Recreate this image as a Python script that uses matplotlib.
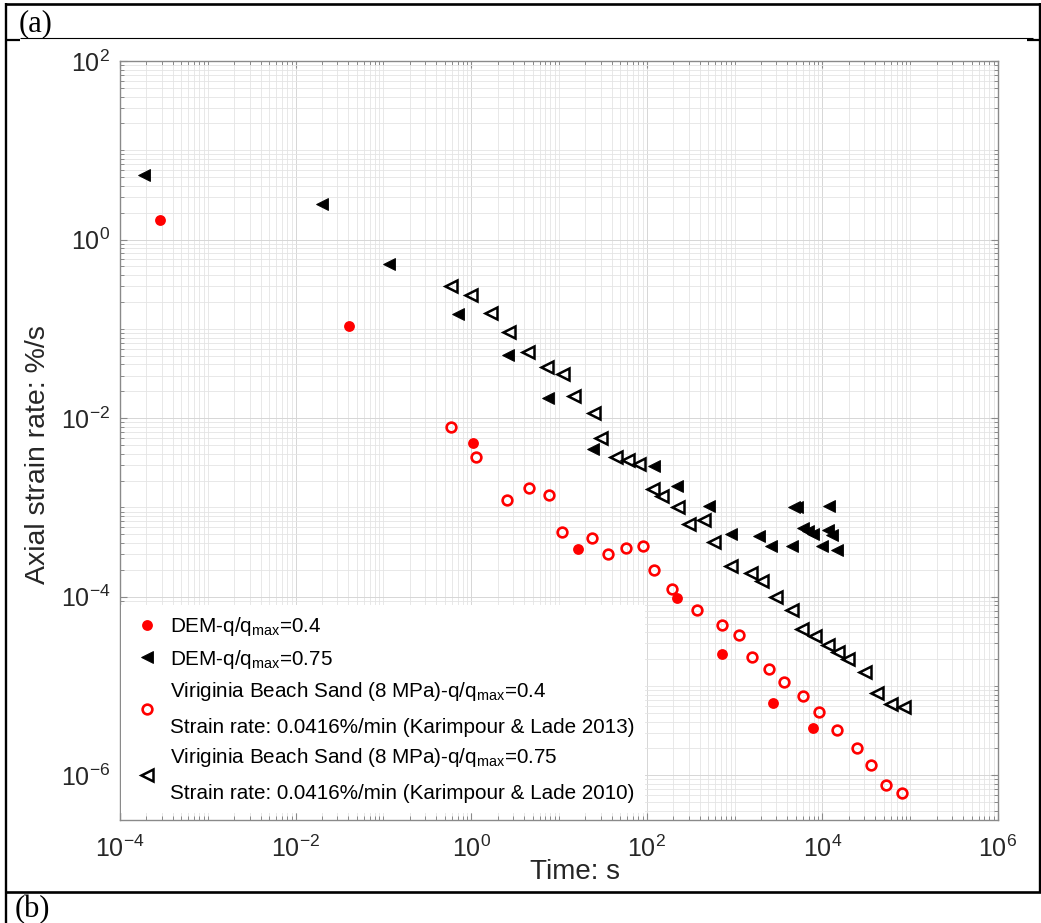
import numpy as np
import matplotlib
matplotlib.use('Agg')
import matplotlib.pyplot as plt
from matplotlib.lines import Line2D
from matplotlib.ticker import FixedLocator, FuncFormatter, NullFormatter

plt.rcParams['font.family'] = ['Liberation Sans', 'DejaVu Sans']
plt.rcParams['mathtext.fontset'] = 'custom'
plt.rcParams['mathtext.rm'] = 'Liberation Sans'
plt.rcParams['mathtext.it'] = 'Liberation Sans:italic'
plt.rcParams['mathtext.bf'] = 'Liberation Sans:bold'

# ---------------- data ----------------
dem04_t = [2.83e-4, 0.0405, 1.06, 16.3, 218, 718, 2760, 7750]
dem04_r = [1.64, 0.109, 5.24e-3, 3.45e-4, 9.6e-5, 2.29e-5, 6.47e-6, 3.43e-6]

dem075_t = [1.89e-4, 0.020, 0.117, 0.70, 2.65, 7.55, 24.2, 121.7, 219, 515,
            910, 1897, 2577, 4540, 4800, 5200, 11970, 6060, 6910, 7870,
            11670, 12760, 9820, 14550]
dem075_r = [5.35, 2.53, 0.527, 0.1466, 0.0514, 0.0167, 4.53e-3, 2.9e-3, 1.73e-3, 1.03e-3,
            4.99e-4, 4.78e-4, 3.69e-4, 3.69e-4, 1.0e-3, 1.0e-3, 1.03e-3, 5.86e-4, 5.40e-4, 4.99e-4,
            5.62e-4, 4.86e-4, 3.66e-4, 3.30e-4]

vbs04_t = [0.583, 1.125, 2.53, 4.59, 7.69, 10.9, 23.9, 36.5, 57.9, 90.6, 121.7, 193.6,
           370, 713, 1122, 1592, 2483, 3622, 6012, 9140, 14650, 24600, 36100, 52600, 80000]
vbs04_r = [8.05e-3, 3.66e-3, 1.22e-3, 1.67e-3, 1.37e-3, 5.29e-4, 4.58e-4, 3.03e-4, 3.54e-4,
           3.66e-4, 2.01e-4, 1.22e-4, 7.18e-5, 4.79e-5, 3.70e-5, 2.12e-5, 1.54e-5, 1.11e-5,
           7.74e-6, 5.06e-6, 3.18e-6, 2.0e-6, 1.29e-6, 7.76e-7, 6.28e-7]

vbs075_t = [0.583, 0.995, 1.67, 2.72, 4.40, 7.36, 11.2, 14.9, 25.2, 30.1, 44.6, 60.5, 82.2,
            116.7, 148, 225, 300, 448, 582, 910, 1524, 2066, 2937, 4540, 5900, 8240, 11670,
            15170, 19700, 30560, 42170, 59950, 85700]
vbs075_r = [0.304, 0.239, 0.149, 0.0931, 0.0556, 0.0378, 0.0313, 0.0175, 0.01135, 6.03e-3,
            3.66e-3, 3.44e-3, 3.08e-3, 1.62e-3, 1.36e-3, 1.0e-3, 6.58e-4, 7.16e-4, 4.09e-4,
            2.19e-4, 1.84e-4, 1.52e-4, 9.93e-5, 7.05e-5, 4.40e-5, 3.61e-5, 2.86e-5, 2.41e-5,
            2.03e-5, 1.44e-5, 8.45e-6, 6.37e-6, 5.83e-6]

labels = [
    'DEM-q/q$_{\\mathregular{max}}$=0.4',
    'DEM-q/q$_{\\mathregular{max}}$=0.75',
    'Viriginia Beach Sand (8 MPa)-q/q$_{\\mathregular{max}}$=0.4\n'
    'Strain rate: 0.0416%/min (Karimpour & Lade 2013)',
    'Viriginia Beach Sand (8 MPa)-q/q$_{\\mathregular{max}}$=0.75\n'
    'Strain rate: 0.0416%/min (Karimpour & Lade 2010)',
]
x_major = [1e-4, 1e-2, 1e0, 1e2, 1e4, 1e6]
y_major = [1e-6, 1e-4, 1e-2, 1e0, 1e2]

# ---------------- figure ----------------
W, H = 1041, 923
fig = plt.figure(figsize=(W / 100, H / 100), dpi=100)
fig.patch.set_facecolor('white')

def fx(px):
    return px / W

def fy(py):
    return 1 - py / H

ax = fig.add_axes([fx(120), fy(820), fx(998) - fx(120), fy(61) - fy(820)])
ax.set_xscale('log')
ax.set_yscale('log')
ax.set_xlim(1e-4, 1e6)
ax.set_ylim(10 ** -6.5, 1e2)

ax.plot(dem04_t, dem04_r, linestyle='none', marker='o', ms=7.8, mfc='#ff0000',
        mec='#ff0000', mew=0, label=labels[0], zorder=3)
ax.plot(dem075_t, dem075_r, linestyle='none', marker='<', ms=8.6, mfc='black',
        mec='black', mew=0.6, label=labels[1], zorder=3)
ax.plot(vbs04_t, vbs04_r, linestyle='none', marker='o', ms=7.0, mfc='none',
        mec='#ff0000', mew=1.9, label=labels[2], zorder=3)
ax.plot(vbs075_t, vbs075_r, linestyle='none', marker='<', ms=8.0, mfc='none',
        mec='black', mew=1.8, label=labels[3], zorder=3)

def minor_positions(kmin, kmax, majors):
    out = []
    for k in range(kmin, kmax):
        for s in range(1, 10):
            v = s * 10.0 ** k
            if not any(abs(v - m) / m < 1e-9 for m in majors):
                out.append(v)
    return out

ax.xaxis.set_major_locator(FixedLocator(x_major))
ax.xaxis.set_minor_locator(FixedLocator(minor_positions(-5, 7, x_major)))
ax.yaxis.set_major_locator(FixedLocator(y_major))
ax.yaxis.set_minor_locator(FixedLocator(minor_positions(-8, 3, y_major)))
fmt = FuncFormatter(lambda v, p: r'$\mathregular{10^{%d}}$' % int(round(np.log10(v))))
ax.xaxis.set_major_formatter(fmt)
ax.yaxis.set_major_formatter(fmt)
ax.xaxis.set_minor_formatter(NullFormatter())
ax.yaxis.set_minor_formatter(NullFormatter())

ax.set_axisbelow(True)
ax.grid(True, which='major', color='#d6d6d6', lw=0.7)
ax.grid(True, which='minor', color='#e4e4e4', lw=0.6)
for s in ax.spines.values():
    s.set_color('#8a8a8a')
    s.set_linewidth(1.0)
ax.tick_params(which='both', direction='in', top=True, right=True, color='#8a8a8a',
               labelcolor='#262626', labelsize=18)
ax.tick_params(which='major', length=5, width=0.8)
ax.tick_params(which='minor', length=3, width=0.7)
ax.tick_params(axis='x', which='major', pad=11)
ax.tick_params(axis='y', which='major', pad=7)

leg = ax.legend(loc='upper left', bbox_to_anchor=((121 - 120) / 878, (820 - 605) / 759),
                bbox_transform=ax.transAxes, borderaxespad=0, fontsize=14.85,
                frameon=True, fancybox=False, framealpha=1, facecolor='white',
                edgecolor='white', handlelength=1.56, handletextpad=0.31,
                borderpad=0.5, labelspacing=0.45, numpoints=1)
leg.get_frame().set_linewidth(0)
for t in leg.get_texts():
    t.set_linespacing(2.0)

fig.text(fx(38), fy(455), 'Axial strain rate: %/s', rotation=90, ha='center',
         va='center', fontsize=20.5, color='#262626')
fig.text(fx(575), fy(879), 'Time: s', ha='center', va='baseline', fontsize=20,
         color='#262626')

# ---------------- document frame ----------------
def hline(y, x0, x1, lw):
    fig.add_artist(Line2D([fx(x0), fx(x1)], [fy(y), fy(y)], transform=fig.transFigure,
                          color='black', lw=lw, solid_capstyle='butt'))

def vline(x, y0, y1, lw):
    fig.add_artist(Line2D([fx(x), fx(x)], [fy(y0), fy(y1)], transform=fig.transFigure,
                          color='black', lw=lw, solid_capstyle='butt'))

hline(4, 5, 1041, 1.9)
hline(38, 20, 1033, 0.8)
hline(39.5, 5, 20, 1.6)
hline(39.5, 1027, 1041, 1.6)
hline(892, 5, 1041, 1.9)
vline(6, 3, 923, 1.7)
vline(1039.5, 3, 893, 1.7)

fig.text(fx(19), fy(31), '(a)', fontsize=22, family='Liberation Serif', va='baseline',
         ha='left', color='black')
fig.text(fx(15), fy(917), '(b)', fontsize=22, family='Liberation Serif', va='baseline',
         ha='left', color='black')

fig.savefig('out.png', dpi=100, facecolor='white')
